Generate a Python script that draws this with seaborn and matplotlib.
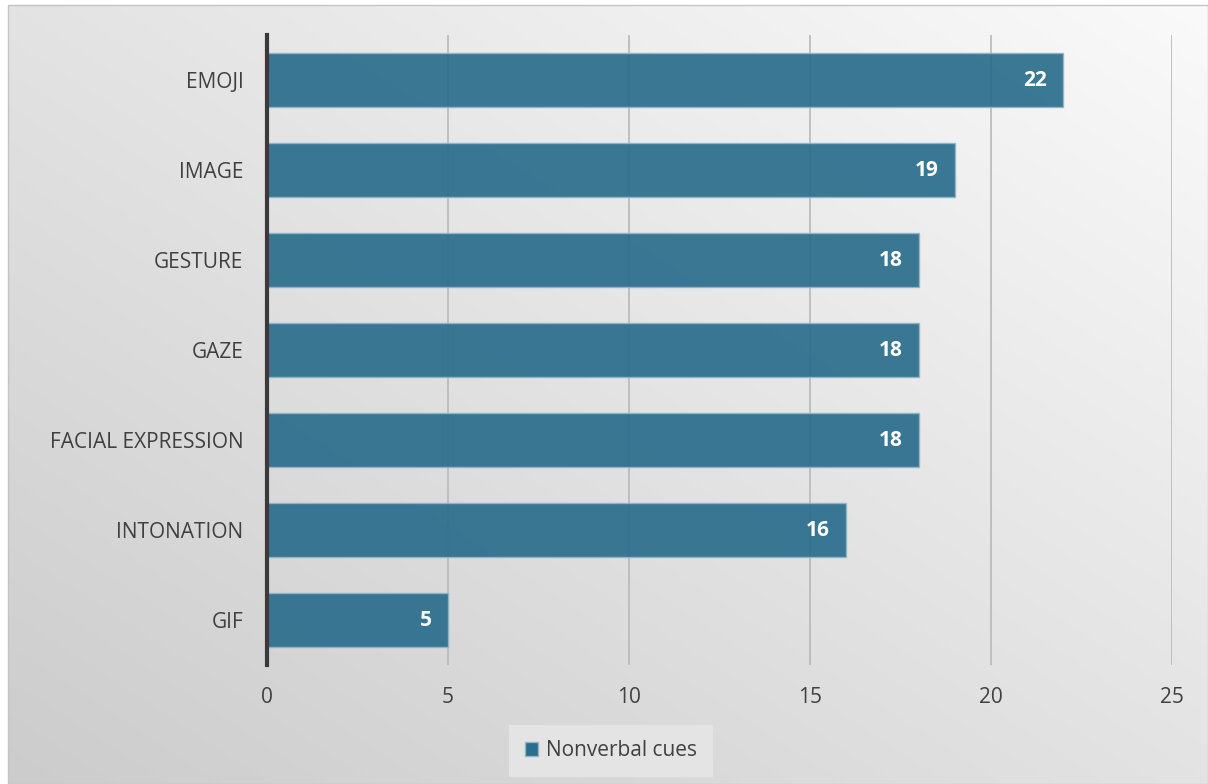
import numpy as np
import pandas as pd
import matplotlib
matplotlib.use("Agg")
import matplotlib.pyplot as plt
import seaborn as sns
from matplotlib.patches import Rectangle, Patch

categories = ["EMOJI", "IMAGE", "GESTURE", "GAZE", "FACIAL EXPRESSION", "INTONATION", "GIF"]
values = [22, 19, 18, 18, 18, 16, 5]
series_name = "Nonverbal cues"
x_ticks = [0, 5, 10, 15, 20, 25]

df = pd.DataFrame({"category": categories, "value": values, "series": series_name})

sns.set_theme(style="white")
plt.rcParams["font.family"] = ["Open Sans", "DejaVu Sans"]

W, H = 1208, 784
fig = plt.figure(figsize=(W / 100, H / 100), dpi=100)
fig.patch.set_facecolor("white")

# gradient background: light at top-right, darker at bottom-left
bg = fig.add_axes([8 / W, 0, 1 - 8 / W, 1 - 5 / H], zorder=0)
yy, xx = np.mgrid[0:1:200j, 0:1:300j]
t = xx * 0.5 + yy * 0.5
grad = 0.80 + 0.18 * t
bg.imshow(np.dstack([grad, grad, grad]), extent=[0, 1, 0, 1], origin="lower", aspect="auto")
bg.set_axis_off()
fig.add_artist(Rectangle((8 / W, 0), 1 - 8 / W, 1 - 5 / H, transform=fig.transFigure,
                         fill=False, edgecolor="#c4c4c4", linewidth=1, zorder=1))

left, right, top, bottom = 267, 1172, 35, 665
ax = fig.add_axes([left / W, 1 - bottom / H, (right - left) / W, (bottom - top) / H], zorder=2)
ax.patch.set_alpha(0)

bar_color = "#2a6d8c"
sns.barplot(data=df, x="value", y="category", order=categories, orient="h",
            color=bar_color, width=0.6, ax=ax, saturation=1, alpha=0.92,
            edgecolor="#8fb6c8", linewidth=1, zorder=3)

fs = 15
ax.set_xlim(0, 25)
ax.set_ylim(6.5, -0.5)
ax.set_xticks(x_ticks)
ax.set_xticklabels([str(v) for v in x_ticks], fontsize=fs, color="#404040")
ax.set_xlabel("")
ax.set_ylabel("")
ax.tick_params(axis="y", labelsize=fs, labelcolor="#404040", length=0, pad=17)
ax.tick_params(axis="x", length=3.5, width=1.2, color="#b0b0b0", pad=12)
for v in x_ticks[1:]:
    ax.axvline(v, color="#b8b8b8", linewidth=1.2, zorder=1)
for s in ["top", "right", "bottom"]:
    ax.spines[s].set_visible(False)
ax.spines["left"].set_color("#3a3a3a")
ax.spines["left"].set_linewidth(3)
ax.spines["left"].set_zorder(5)

for i, v in enumerate(values):
    ax.text(v - 0.45, i, str(v), ha="right", va="center", color="white",
            fontsize=fs, fontweight="bold", zorder=6)

handle = Patch(facecolor=bar_color, edgecolor="#8fb6c8", label=series_name)
leg = fig.legend(handles=[handle], loc="center", bbox_to_anchor=(611 / W, 1 - 751 / H),
                 fontsize=fs, frameon=True, fancybox=False, handlelength=0.65, handleheight=0.65,
                 handletextpad=0.4, borderpad=0.75, borderaxespad=0, labelcolor="#404040")
leg.get_frame().set_facecolor("#e4e4e4")
leg.get_frame().set_edgecolor("none")
leg.get_frame().set_alpha(1)

fig.savefig("out.png", dpi=100)
